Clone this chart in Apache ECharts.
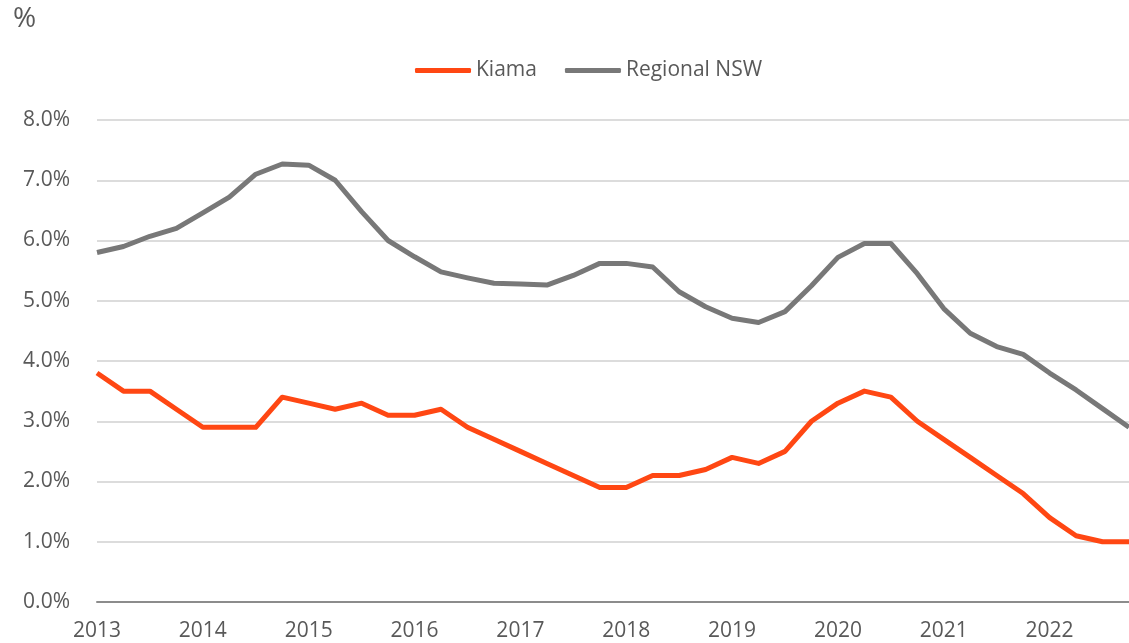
<html>
<head>
<meta charset="utf-8">
<title>Kiama vs Regional NSW</title>
<script src="https://cdn.jsdelivr.net/npm/echarts@6/dist/echarts.min.js"></script>
<style>
  body { margin: 0; background: #fff; }
  #main { width: 1129px; height: 643px; }
</style>
</head>
<body>
<div id="main"></div>
<script type="text/javascript">
// quarterly data, 2013 Q1 .. 2022 Q4
var years = ['2013', '2014', '2015', '2016', '2017', '2018', '2019', '2020', '2021', '2022'];
var quarters = [];
years.forEach(function (y) {
  for (var q = 1; q <= 4; q++) quarters.push(y + ' Q' + q);
});

var kiama = [3.8, 3.5, 3.5, 3.2, 2.9, 2.9, 2.9, 3.4, 3.3, 3.2,
             3.3, 3.1, 3.1, 3.2, 2.9, 2.7, 2.5, 2.3, 2.1, 1.9,
             1.9, 2.1, 2.1, 2.2, 2.4, 2.3, 2.5, 3.0, 3.3, 3.5,
             3.4, 3.0, 2.7, 2.4, 2.1, 1.8, 1.4, 1.1, 1.0, 1.0];

var regionalNSW = [5.80, 5.90, 6.07, 6.20, 6.46, 6.72, 7.10, 7.27, 7.25, 7.00,
                   6.48, 6.00, 5.73, 5.48, 5.38, 5.29, 5.28, 5.26, 5.42, 5.62,
                   5.62, 5.56, 5.15, 4.90, 4.71, 4.64, 4.82, 5.25, 5.72, 5.95,
                   5.95, 5.45, 4.87, 4.46, 4.24, 4.11, 3.80, 3.52, 3.21, 2.90];

var myChart = echarts.init(document.getElementById('main'));
var labelFont = '"Open Sans", "DejaVu Sans", sans-serif';

myChart.setOption({
  animation: false,
  backgroundColor: '#ffffff',
  title: {
    text: '%',
    left: 8,
    top: 0,
    textStyle: { color: '#595959', fontSize: 28, fontWeight: 'normal', fontFamily: labelFont }
  },
  legend: {
    top: 55,
    left: 410,
    icon: 'roundRect',
    itemWidth: 56,
    itemHeight: 5,
    itemGap: 28,
    textStyle: { color: '#595959', fontSize: 21, fontFamily: labelFont },
    data: ['Kiama', 'Regional NSW']
  },
  grid: {
    left: 97,
    right: -5,
    top: 120,
    bottom: 41
  },
  xAxis: {
    type: 'category',
    data: quarters,
    boundaryGap: false,
    axisLine: { lineStyle: { color: '#8c8c8c', width: 2 } },
    axisTick: { show: false },
    axisLabel: {
      interval: 3,
      margin: 19,
      color: '#595959',
      fontSize: 21,
      fontFamily: labelFont,
      formatter: function (v) { return v.slice(0, 4); }
    },
    splitLine: { show: false }
  },
  yAxis: {
    type: 'value',
    min: 0,
    max: 8,
    interval: 1,
    axisLine: { show: false },
    axisTick: { show: false },
    axisLabel: {
      margin: 27,
      color: '#595959',
      fontSize: 21,
      fontFamily: labelFont,
      formatter: function (v) { return v.toFixed(1) + '%'; }
    },
    splitLine: { lineStyle: { color: '#dcdcdc', width: 2 } }
  },
  series: [
    {
      name: 'Kiama',
      type: 'line',
      data: kiama,
      symbol: 'none',
      color: '#ff4713',
      lineStyle: { color: '#ff4713', width: 5, join: 'round' }
    },
    {
      name: 'Regional NSW',
      type: 'line',
      data: regionalNSW,
      symbol: 'none',
      color: '#787878',
      lineStyle: { color: '#787878', width: 5, join: 'round' }
    }
  ]
});
</script>
</body>
</html>
